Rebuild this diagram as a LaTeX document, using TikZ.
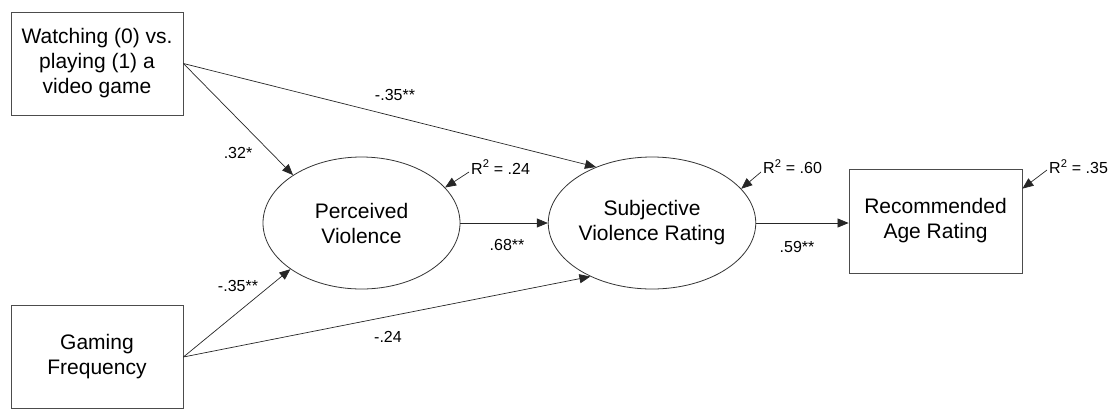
\documentclass[tikz,border=0pt]{standalone}
\usepackage{fontspec}
\setmainfont{Liberation Sans}
\usetikzlibrary{arrows.meta,shapes.geometric}

\begin{document}
\begin{tikzpicture}[x=1pt,y=-1pt,
    var/.style={draw=black!70,line width=0.8pt,minimum width=172pt,minimum height=103pt,
        align=center,font=\fontsize{21}{25}\selectfont},
    lat/.style={ellipse,draw=black!80,line width=0.8pt,inner sep=0pt,minimum width=197pt,
        minimum height=132pt,align=center,font=\fontsize{21}{25}\selectfont},
    arr/.style={draw=black!85,line width=0.7pt,-{Triangle[length=11pt,width=9pt]}},
    coef/.style={inner sep=2pt,font=\fontsize{16}{18}\selectfont}]
    \useasboundingbox (0,0) rectangle (1113,408);
    \node[var] (watch) at (97,63.5) {Watching (0) vs.\\playing (1) a\\video game};
    \node[var] (freq) at (97,357) {Gaming\\Frequency};
    \node[lat] (pv) at (361.5,223) {Perceived\\Violence};
    \node[lat] (svr) at (652,223) {Subjective\\Violence Rating};
    \node[var,minimum width=173pt,minimum height=104pt] (age) at (935.5,221) {Recommended\\Age Rating};
    \draw[arr] (watch.east) -- (pv.145);
    \draw[arr] (watch.east) -- (svr.135);
    \draw[arr] (freq.east) -- (pv.213);
    \draw[arr] (freq.east) -- (svr.221);
    \draw[arr] (pv.east) -- (svr.west);
    \draw[arr] (svr.east) -- (svr.east -| age.west);
    \node[coef] (c1) at (238,153) {.32*};
    \node[coef] (c2) at (395,95) {-.35**};
    \node[coef] (c3) at (238,286) {-.35**};
    \node[coef] (c4) at (388,337) {-.24};
    \node[coef] (c5) at (507,245) {.68**};
    \node[coef] (c6) at (797,247) {.59**};
    \node[coef,anchor=west] (r1) at (469,167) {R\textsuperscript{2} = .24};
    \node[coef,anchor=west] (r2) at (761,167) {R\textsuperscript{2} = .60};
    \node[coef,anchor=west] (r3) at (1047,167) {R\textsuperscript{2} = .35};
    \draw[arr] ([yshift=-5pt]r1.west) -- (pv.23);
    \draw[arr] ([yshift=-5pt]r2.west) -- (svr.21);
    \draw[arr] ([yshift=-3pt]r3.west) -- ([yshift=-20pt]age.north east);
\end{tikzpicture}
\end{document}
